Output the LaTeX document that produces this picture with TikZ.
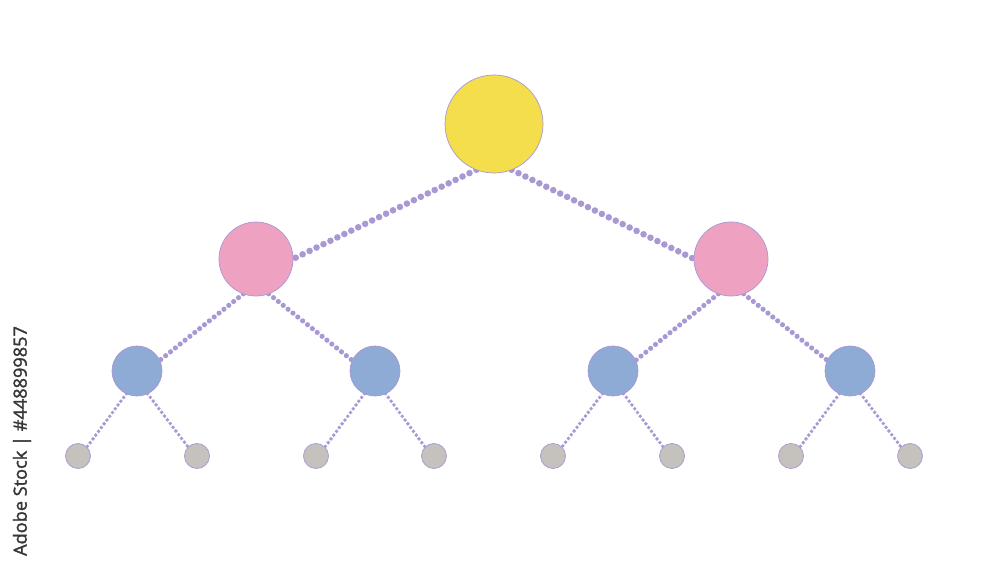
\documentclass[tikz,border=0pt]{standalone}
\usepackage{fontspec}
\newfontfamily\stockfont[FakeBold=1.6]{Open Sans}
\usetikzlibrary{backgrounds}
\definecolor{rootc}{HTML}{F5DE4C}
\definecolor{pinkc}{HTML}{EFA1C1}
\definecolor{bluec}{HTML}{8DABD5}
\definecolor{grayc}{HTML}{C5C1BC}
\definecolor{linec}{HTML}{A898D4}
\definecolor{txtc}{HTML}{363636}
\tikzset{
  nd/.style={circle, draw=linec, line width=0.6pt, inner sep=0pt, outer sep=0pt},
  lvlA/.style={nd, fill=rootc, minimum size=2.94cm},
  lvlB/.style={nd, fill=pinkc, minimum size=2.22cm},
  lvlC/.style={nd, fill=bluec, minimum size=1.5cm},
  lvlD/.style={nd, fill=grayc, minimum size=0.75cm},
  edA/.style={draw=linec, line cap=round, line width=5.6pt, dash pattern=on 0pt off 6.6pt},
  edB/.style={draw=linec, line cap=round, line width=4.4pt, dash pattern=on 0pt off 5.3pt},
  edC/.style={draw=linec, line cap=round, line width=3.3pt, dash pattern=on 0pt off 4.0pt},
}
\begin{document}
\begin{tikzpicture}[x=0.03cm, y=-0.03cm]
\useasboundingbox (0,0) rectangle (1000,571);
% nodes
\node[lvlA] (r) at (494,124) {};
\node[lvlB] (p1) at (256,259) {};
\node[lvlB] (p2) at (731,259) {};
\node[lvlC] (b1) at (137,371) {};
\node[lvlC] (b2) at (375,371) {};
\node[lvlC] (b3) at (613,371) {};
\node[lvlC] (b4) at (850,371) {};
\node[lvlD] (g1) at (78,456) {};
\node[lvlD] (g2) at (197,456) {};
\node[lvlD] (g3) at (316,456) {};
\node[lvlD] (g4) at (434,456) {};
\node[lvlD] (g5) at (553,456) {};
\node[lvlD] (g6) at (672,456) {};
\node[lvlD] (g7) at (791,456) {};
\node[lvlD] (g8) at (910,456) {};
\begin{pgfonlayer}{background}
\fill[white] (0,0) rectangle (1000,571);
\draw[edA] (r.249) -- (p1.0);
\draw[edA] (r.291) -- (p2.180);
\draw[edB] (p1.250) -- (b1.25);
\draw[edB] (p1.290) -- (b2.155);
\draw[edB] (p2.250) -- (b3.25);
\draw[edB] (p2.290) -- (b4.155);
\foreach \b/\l/\r in {b1/g1/g2, b2/g3/g4, b3/g5/g6, b4/g7/g8}{
  \draw[edC] (\b.245) -- (\l.45);
  \draw[edC] (\b.295) -- (\r.135);
}
\end{pgfonlayer}
\node[rotate=90, text=txtc, inner sep=0pt, font=\stockfont\fontsize{15.5}{18}\selectfont] (lbl) at (22,441) {Adobe Stock | \#448899857};
\end{tikzpicture}
\end{document}
